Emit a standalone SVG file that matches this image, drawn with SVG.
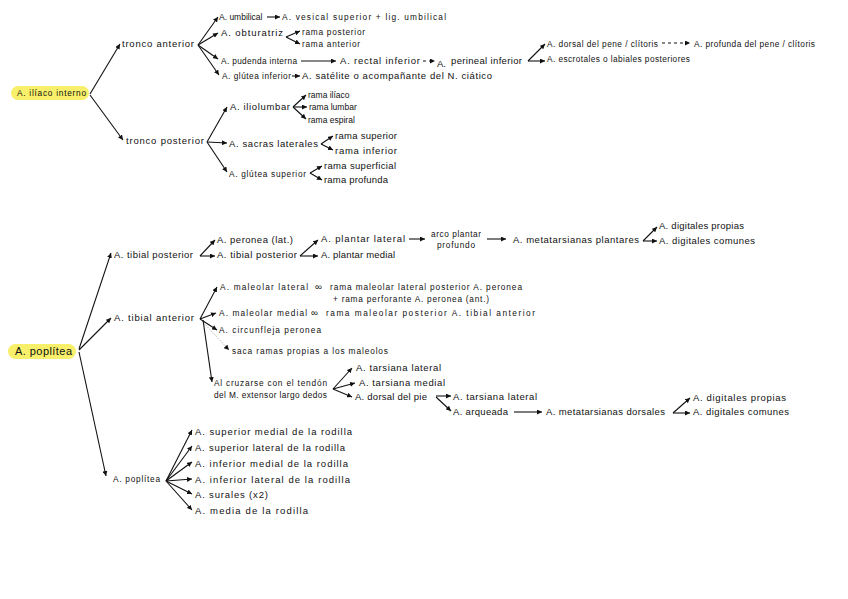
<svg xmlns="http://www.w3.org/2000/svg" width="848" height="599" viewBox="0 0 848 599">
<defs>
<marker id="ah" viewBox="0 0 6 6" refX="6" refY="3" markerWidth="5" markerHeight="5" markerUnits="userSpaceOnUse" orient="auto"><path d="M0,0 L6,3 L0,6 z" fill="#111"/></marker>
</defs>
<style>
text{font-family:"Liberation Sans","DejaVu Sans",sans-serif;font-size:9.5px;fill:#111}
.big{font-size:11px}
.sm{font-size:8.3px}
.xs{font-size:8.5px}
.hl{fill:#f8f06a}
.c line,.c path{stroke:#111;stroke-width:1.1;fill:none}
.c .a{marker-end:url(#ah)}
.c .d{stroke-dasharray:3 3}
.c .dot{stroke:#888;stroke-width:0.8;stroke-dasharray:1 1.5}
</style>
<rect width="848" height="599" fill="#fff"/>

<g id="connectors" class="c">
<line class="a" x1="90" y1="94" x2="120" y2="44"/>
<line class="a" x1="90" y1="95" x2="123" y2="140"/>
<line class="a" x1="198" y1="45" x2="218" y2="17"/>
<line class="a" x1="198" y1="45" x2="218" y2="33"/>
<line class="a" x1="198" y1="45" x2="218" y2="59"/>
<line class="a" x1="198" y1="45" x2="219" y2="75"/>
<line class="a" x1="267" y1="17" x2="280" y2="17"/>
<line class="a" x1="286" y1="37" x2="300" y2="31"/>
<line class="a" x1="286" y1="37" x2="300" y2="44"/>
<line class="a" x1="301" y1="61" x2="336" y2="61"/>
<line class="a d" x1="423" y1="61" x2="435" y2="61"/>
<line class="a" x1="528" y1="61" x2="545" y2="44"/>
<line class="a" x1="528" y1="61" x2="545" y2="61"/>
<line class="a d" x1="662" y1="43" x2="690" y2="43"/>
<line class="a" x1="292" y1="76" x2="300" y2="76"/>
<line class="a" x1="207" y1="142" x2="227" y2="107"/>
<line class="a" x1="207" y1="142" x2="227" y2="143"/>
<line class="a" x1="207" y1="142" x2="227" y2="172"/>
<line class="a" x1="293" y1="107" x2="306" y2="95"/>
<line class="a" x1="293" y1="107" x2="307" y2="107"/>
<line class="a" x1="293" y1="107" x2="306" y2="119"/>
<line class="a" x1="321" y1="144" x2="333" y2="136"/>
<line class="a" x1="321" y1="144" x2="333" y2="150"/>
<line class="a" x1="310" y1="173" x2="322" y2="166"/>
<line class="a" x1="310" y1="173" x2="322" y2="180"/>
<line class="a" x1="79" y1="349" x2="111" y2="253"/>
<line class="a" x1="79" y1="350" x2="111" y2="318"/>
<line class="a" x1="79" y1="352" x2="106" y2="476"/>
<line class="a" x1="200" y1="256" x2="215" y2="240"/>
<line class="a" x1="200" y1="256" x2="215" y2="256"/>
<line class="a" x1="300" y1="256" x2="318" y2="240"/>
<line class="a" x1="300" y1="256" x2="318" y2="256"/>
<line class="a" x1="409" y1="239" x2="425" y2="239"/>
<line class="a" x1="487" y1="239" x2="506" y2="239"/>
<line class="a" x1="643" y1="241" x2="657" y2="227"/>
<line class="a" x1="643" y1="241" x2="657" y2="241"/>
<line class="a" x1="200" y1="319" x2="217" y2="287"/>
<line class="a" x1="200" y1="319" x2="216" y2="313"/>
<line class="a" x1="200" y1="319" x2="217" y2="330"/>
<line class="a dot" x1="201" y1="320" x2="229" y2="350"/>
<line class="a" x1="203" y1="320" x2="212" y2="382"/>
<line class="a" x1="333" y1="389" x2="352" y2="368"/>
<line class="a" x1="333" y1="389" x2="355" y2="383"/>
<line class="a" x1="333" y1="389" x2="352" y2="397"/>
<line class="a" x1="436" y1="396" x2="451" y2="396"/>
<line class="a" x1="436" y1="397" x2="451" y2="411"/>
<line class="a" x1="514" y1="412" x2="542" y2="412"/>
<line class="a" x1="673" y1="413" x2="690" y2="398"/>
<line class="a" x1="673" y1="413" x2="690" y2="413"/>
<line class="a" x1="166" y1="481" x2="192" y2="430"/>
<line class="a" x1="166" y1="481" x2="192" y2="446"/>
<line class="a" x1="166" y1="481" x2="192" y2="462"/>
<line class="a" x1="166" y1="481" x2="192" y2="479"/>
<line class="a" x1="166" y1="481" x2="192" y2="494"/>
<line class="a" x1="166" y1="481" x2="192" y2="510"/>
</g>

<g id="iliaco-interno"><rect class="hl" x="11" y="86" width="78" height="14" rx="7"/><text class="sm" x="17" y="96" textLength="69">A. ilíaco interno</text></g>
<g id="tronco-anterior"><text x="122" y="47" textLength="72">tronco anterior</text></g>
<g id="tronco-posterior"><text x="126" y="144" textLength="78">tronco posterior</text></g>
<g id="umbilical"><text class="xs" x="219" y="20">A. umbilical</text></g>
<g id="vesical"><text class="sm" x="282" y="20" textLength="164">A. vesical superior + lig. umbilical</text></g>
<g id="obturatriz"><text x="221" y="36" textLength="62">A. obturatriz</text></g>
<g id="obt-post"><text class="sm" x="302" y="35" textLength="63">rama posterior</text></g>
<g id="obt-ant"><text class="sm" x="302" y="47" textLength="58">rama anterior</text></g>
<g id="pudenda"><text class="sm" x="221" y="64" textLength="76">A. pudenda interna</text></g>
<g id="rectal"><text x="340" y="64" textLength="80">A. rectal inferior</text></g>
<g id="perineal"><text x="437" y="67">A.</text><text x="451" y="64" textLength="71">perineal inferior</text></g>
<g id="dorsal-pene"><text class="sm" x="547" y="47" textLength="111">A. dorsal del pene / clítoris</text></g>
<g id="escrotales"><text class="sm" x="547" y="62" textLength="143">A. escrotales o labiales posteriores</text></g>
<g id="profunda-pene"><text class="sm" x="694" y="47" textLength="121">A. profunda del pene / clítoris</text></g>
<g id="glutea-inf"><text class="sm" x="222" y="79" textLength="69">A. glútea inferior</text></g>
<g id="satelite"><text x="302" y="79" textLength="190">A. satélite  o acompañante del N. ciático</text></g>
<g id="iliolumbar"><text x="230" y="110" textLength="60">A. iliolumbar</text></g>
<g id="rama-iliaco"><text class="xs" x="308" y="98">rama ilíaco</text></g>
<g id="rama-lumbar"><text class="xs" x="309" y="110">rama lumbar</text></g>
<g id="rama-espiral"><text class="xs" x="308" y="123">rama espiral</text></g>
<g id="sacras"><text x="229" y="147" textLength="89">A. sacras laterales</text></g>
<g id="sac-sup"><text x="335" y="139" textLength="62">rama superior</text></g>
<g id="sac-inf"><text x="335" y="154" textLength="62">rama inferior</text></g>
<g id="glutea-sup"><text class="sm" x="229" y="177" textLength="77">A. glútea superior</text></g>
<g id="rama-superficial"><text x="324" y="169" textLength="72">rama superficial</text></g>
<g id="rama-profunda"><text x="324" y="183" textLength="64">rama profunda</text></g>

<g id="poplitea"><rect class="hl" x="8" y="344" width="68" height="15" rx="7.5"/><text class="big" x="15" y="355" textLength="57">A. poplítea</text></g>
<g id="tibial-posterior"><text x="114" y="258" textLength="79">A. tibial posterior</text></g>
<g id="peronea"><text x="217" y="243" textLength="76">A. peronea (lat.)</text></g>
<g id="tibial-posterior-2"><text x="217" y="258" textLength="80">A. tibial posterior</text></g>
<g id="plantar-lateral"><text x="321" y="242" textLength="84">A. plantar lateral</text></g>
<g id="plantar-medial"><text x="321" y="258" textLength="74">A. plantar medial</text></g>
<g id="arco-plantar"><text class="sm" x="431" y="237" textLength="50">arco plantar</text><text class="sm" x="437" y="248" textLength="38">profundo</text></g>
<g id="metatarsianas-plantares"><text x="513" y="243" textLength="126">A. metatarsianas  plantares</text></g>
<g id="digitales-propias-1"><text x="659" y="229" textLength="85">A. digitales propias</text></g>
<g id="digitales-comunes-1"><text x="659" y="244" textLength="96">A. digitales comunes</text></g>

<g id="tibial-anterior"><text x="114" y="321" textLength="80">A. tibial anterior</text></g>
<g id="maleolar-lateral"><text class="sm" x="220" y="290" textLength="88">A. maleolar  lateral</text><text x="315" y="290">∞</text><text class="sm" x="330" y="290" textLength="192">rama maleolar lateral posterior A. peronea</text><text class="sm" x="333" y="302" textLength="156">+ rama perforante A. peronea (ant.)</text></g>
<g id="maleolar-medial"><text class="sm" x="219" y="316" textLength="88">A. maleolar medial</text><text x="311" y="316">∞</text><text class="sm" x="326" y="316" textLength="209">rama maleolar posterior A. tibial anterior</text></g>
<g id="circunfleja"><text class="sm" x="219" y="333" textLength="102">A. circunfleja peronea</text></g>
<g id="saca-ramas"><text class="sm" x="232" y="354" textLength="156">saca ramas propias a los maleolos</text></g>
<g id="cruzarse"><text class="sm" x="214" y="386" textLength="113">Al cruzarse con el tendón</text><text class="sm" x="214" y="398" textLength="113">del M. extensor largo dedos</text></g>
<g id="tarsiana-lateral-1"><text x="356" y="371" textLength="85">A. tarsiana lateral</text></g>
<g id="tarsiana-medial"><text x="359" y="386" textLength="86">A. tarsiana medial</text></g>
<g id="dorsal-pie"><text x="355" y="400" textLength="72">A. dorsal del pie</text></g>
<g id="tarsiana-lateral-2"><text x="453" y="400" textLength="84">A. tarsiana lateral</text></g>
<g id="arqueada"><text x="453" y="415" textLength="55">A. arqueada</text></g>
<g id="metatarsianas-dorsales"><text x="546" y="415" textLength="119">A. metatarsianas dorsales</text></g>
<g id="digitales-propias-2"><text x="693" y="401" textLength="93">A. digitales  propias</text></g>
<g id="digitales-comunes-2"><text x="693" y="415" textLength="96">A. digitales  comunes</text></g>

<g id="poplitea-2"><text class="sm" x="113" y="482" textLength="47">A. poplítea</text></g>
<g id="sup-medial"><text x="195" y="435" textLength="157">A. superior medial de la rodilla</text></g>
<g id="sup-lateral"><text x="195" y="451" textLength="150">A. superior lateral de la rodilla</text></g>
<g id="inf-medial"><text x="195" y="467" textLength="153">A. inferior medial de la rodilla</text></g>
<g id="inf-lateral"><text x="195" y="483" textLength="155">A. inferior lateral de la rodilla</text></g>
<g id="surales"><text x="195" y="498" textLength="73">A. surales (x2)</text></g>
<g id="media"><text x="195" y="514" textLength="113">A. media de la rodilla</text></g>
</svg>
